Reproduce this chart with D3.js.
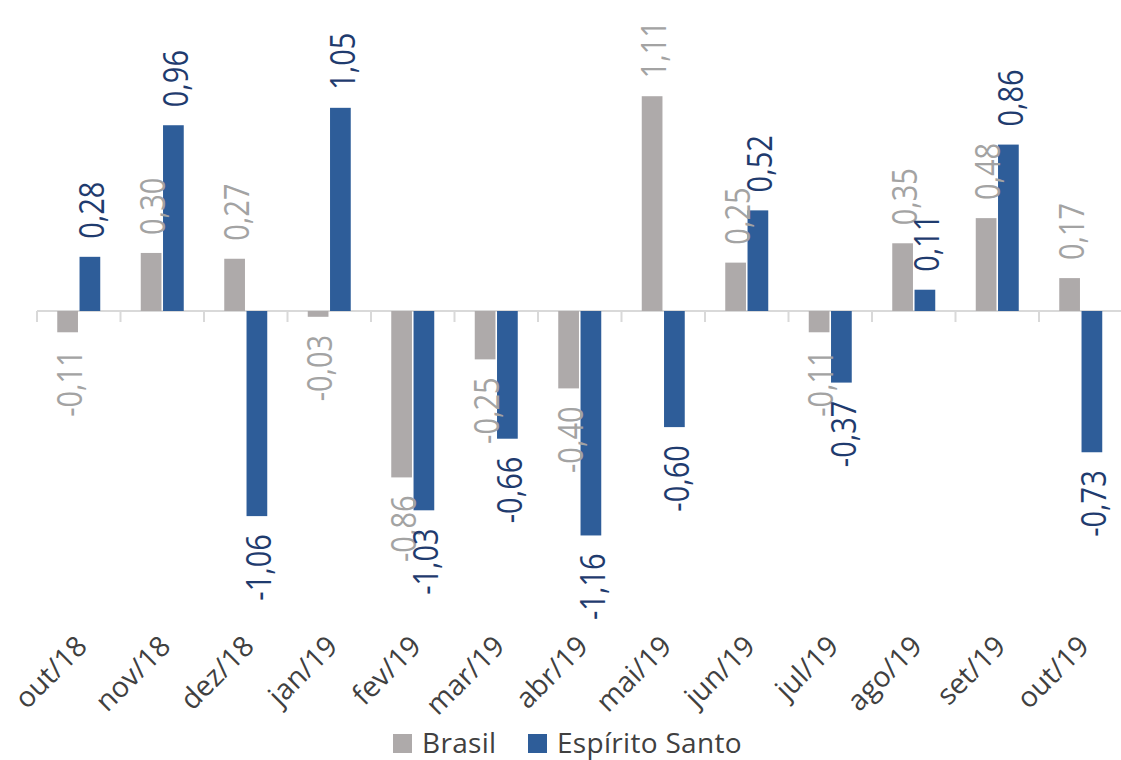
<!DOCTYPE html>
<html>
<head>
<meta charset="utf-8">
<script src="https://cdn.jsdelivr.net/npm/d3@7"></script>
<style>
  body { margin: 0; background: #fff; }
  svg { display: block; font-family: "Open Sans", sans-serif; }
</style>
</head>
<body>
<div id="chart"></div>
<script>
const categories = ["out/18", "nov/18", "dez/18", "jan/19", "fev/19", "mar/19", "abr/19",
  "mai/19", "jun/19", "jul/19", "ago/19", "set/19", "out/19"];
const seriesNames = ["Brasil", "Espírito Santo"];
const brasil = [-0.11, 0.30, 0.27, -0.03, -0.86, -0.25, -0.40, 1.11, 0.25, -0.11, 0.35, 0.48, 0.17];
const espiritoSanto = [0.28, 0.96, -1.06, 1.05, -1.03, -0.66, -1.16, -0.60, 0.52, -0.37, 0.11, 0.86, -0.73];

const width = 1121, height = 760;
const barColors = ["#AEAAAA", "#2E5D99"];
const labelColors = ["#A3A3A3", "#1F3B6E"];

const svg = d3.select("#chart").append("svg")
  .attr("width", width)
  .attr("height", height);

const x = d3.scaleBand()
  .domain(categories)
  .range([37, 1122.5])
  .paddingInner(0.485)
  .paddingOuter(0.2425);

const x1 = d3.scaleBand()
  .domain([0, 1])
  .range([0, x.bandwidth()])
  .paddingInner(0.07);

const y = d3.scaleLinear()
  .domain([-1.6, 1.6])
  .range([311 + 1.6 * 193.5, 311 - 1.6 * 193.5]);

const fmt = v => d3.format(".2f")(v).replace(".", ",").replace("−", "-");

const data = categories.map((c, i) => ({cat: c, vals: [brasil[i], espiritoSanto[i]]}));

// linha do zero + marcas entre categorias
const step = x.step();
const axisG = svg.append("g").attr("class", "axis");
axisG.append("line")
  .attr("x1", x.range()[0]).attr("x2", x.range()[1])
  .attr("y1", y(0)).attr("y2", y(0))
  .attr("stroke", "#D9D9D9").attr("stroke-width", 2);
axisG.selectAll(".tick")
  .data(d3.range(categories.length + 1))
  .enter().append("line")
    .attr("x1", i => x.range()[0] + i * step)
    .attr("x2", i => x.range()[0] + i * step)
    .attr("y1", y(0)).attr("y2", y(0) + 11)
    .attr("stroke", "#D9D9D9").attr("stroke-width", 2);

const groups = svg.selectAll(".grupo")
  .data(data)
  .enter().append("g")
    .attr("class", "grupo")
    .attr("transform", d => "translate(" + x(d.cat) + ",0)");

groups.selectAll("rect")
  .data(d => d.vals.map((v, k) => ({v: v, k: k})))
  .enter().append("rect")
    .attr("x", d => x1(d.k))
    .attr("y", d => y(Math.max(0, d.v)))
    .attr("width", x1.bandwidth())
    .attr("height", d => Math.abs(y(d.v) - y(0)))
    .style("fill", d => barColors[d.k]);

// rótulos de dados (verticais, um pouco esticados como no original)
groups.selectAll("text")
  .data(d => d.vals.map((v, k) => ({v: v, k: k})))
  .enter().append("text")
    .attr("transform", d => {
      const cx = x1(d.k) + x1.bandwidth() / 2 + 2;
      const ty = d.v >= 0 ? y(d.v) - 18 : y(d.v) + 18;
      return "translate(" + cx + "," + ty + ")rotate(-90)scale(1,1.17)";
    })
    .attr("dy", "0.36em")
    .attr("text-anchor", d => d.v >= 0 ? "start" : "end")
    .style("font-size", "29px")
    .style("fill", d => labelColors[d.k])
    .text(d => fmt(d.v));

// rótulos do eixo x
svg.selectAll(".xlabel")
  .data(categories)
  .enter().append("text")
    .attr("class", "xlabel")
    .attr("transform", d => "translate(" + (x(d) + x.bandwidth() / 2 + 3) + ",641)rotate(-45)")
    .attr("text-anchor", "end")
    .attr("dy", "0.35em")
    .style("font-size", "28.5px")
    .style("fill", "#404040")
    .text(d => d);

// legenda
const legend = svg.append("g").attr("transform", "translate(393,734)");
const legX = [0, 135];
seriesNames.forEach((name, k) => {
  const g = legend.append("g").attr("transform", "translate(" + legX[k] + ",0)");
  g.append("rect").attr("width", 19).attr("height", 19).style("fill", barColors[k]);
  g.append("text")
    .attr("x", 29).attr("y", 19)
    .style("font-size", "28px")
    .style("letter-spacing", "0.3px")
    .style("fill", "#404040")
    .text(name);
});
</script>
</body>
</html>
